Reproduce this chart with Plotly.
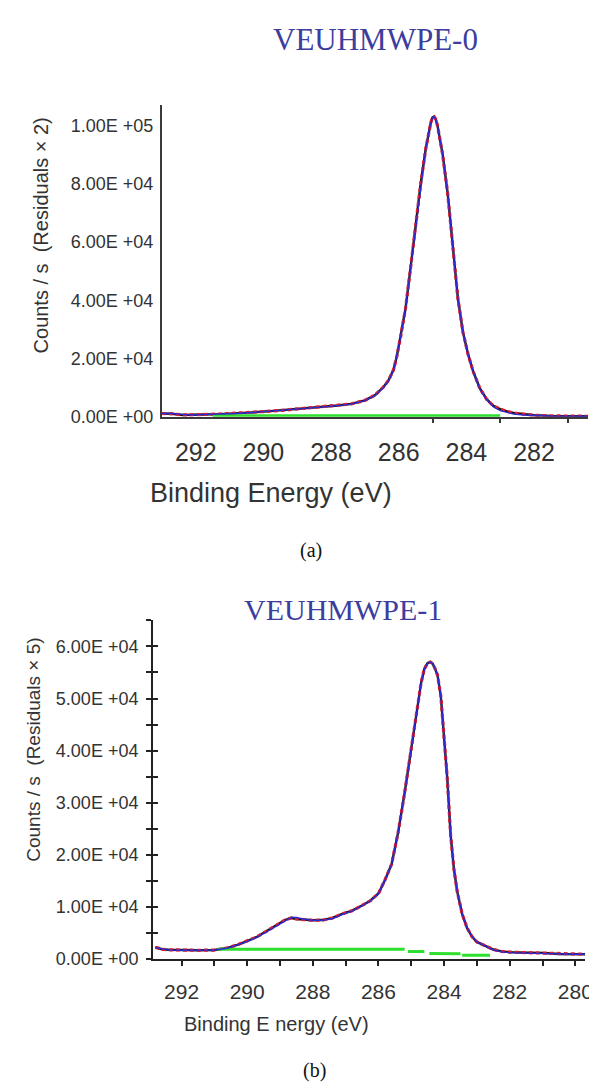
import plotly.graph_objects as go

# ---------------- Panel (a): VEUHMWPE-0 ----------------
title_a = "VEUHMWPE-0"
be_a = [293.0, 292.7, 292.4, 292.1, 291.8, 291.3, 290.8, 290.3, 289.8, 289.3, 288.8, 288.3,
        287.8, 287.4, 287.0, 286.7, 286.45, 286.3, 286.15, 286.05, 285.95, 285.8, 285.65,
        285.5, 285.35, 285.2, 285.1, 285.05, 285.0, 284.95, 284.9, 284.85, 284.8, 284.7,
        284.55, 284.4, 284.25, 284.1, 283.95, 283.8, 283.6, 283.4, 283.2, 283.0, 282.8,
        282.6, 282.3, 282.0, 281.5, 281.0, 280.4]
fit_a = [1100, 1100, 800, 600, 700, 850, 1100, 1450, 1850, 2300, 2800, 3300,
         3800, 4300, 5500, 7300, 10000, 12300, 16000, 21000, 27000, 37000, 51000,
         66000, 80000, 92000, 98500, 101000, 102800, 103000, 102000, 99800, 96500, 90000,
         76500, 58700, 40600, 29000, 21500, 15500, 9500, 5800, 3400, 2100, 1400,
         900, 600, 400, 250, 200, 150]
data_a = [1100, 1000, 600, 600, 750, 900, 1150, 1500, 1900, 2350, 2850, 3350,
          3850, 4400, 5600, 7400, 10200, 12500, 16200, 21000, 27000, 37000, 51000,
          66000, 80000, 92000, 98500, 101000, 102800, 103000, 102000, 99800, 96500, 90000,
          76500, 58700, 40600, 29000, 21500, 15600, 9700, 6000, 3700, 2600, 1800,
          1300, 900, 500, 300, 200, 150]
bg_a_x = [291.5, 283.0]
bg_a_y = [300, 300]
ya_vals = [0, 20000, 40000, 60000, 80000, 100000]
ya_text = ["0.00E +00", "2.00E +04", "4.00E +04", "6.00E +04", "8.00E +04", "1.00E +05"]
xa_vals = [292, 290, 288, 286, 284, 282]
xa_text = ["292", "290", "288", "286", "284", "282"]
xa_minor = [285, 283, 281]
ytitle_a = "Counts / s  (Residuals × 2)"
xtitle_a = "Binding Energy (eV)"
caption_a = "(a)"

# ---------------- Panel (b): VEUHMWPE-1 ----------------
title_b = "VEUHMWPE-1"
be_b = [292.8, 292.6, 292.4, 292.0, 291.5, 291.0, 290.6, 290.3, 290.0, 289.7, 289.4, 289.1,
        288.85, 288.65, 288.5, 288.3, 288.0, 287.7, 287.4, 287.1, 286.8, 286.5, 286.25,
        286.0, 285.8, 285.6, 285.4, 285.2, 285.0, 284.85, 284.7, 284.6, 284.5, 284.42,
        284.35, 284.28, 284.2, 284.1, 284.0, 283.9, 283.8, 283.7, 283.6, 283.45, 283.3,
        283.15, 283.0, 282.75, 282.5, 282.25, 282.0, 281.5, 281.0, 280.5, 280.0, 279.7]
fit_b = [2200, 1950, 1780, 1700, 1700, 1750, 2100, 2700, 3400, 4200, 5300, 6500,
         7400, 8050, 8000, 7700, 7450, 7450, 7800, 8600, 9200, 10200, 11100,
         12600, 15200, 18200, 24300, 32000, 40200, 46500, 53000, 55700, 56800, 57000,
         56700, 55800, 54500, 50500, 43000, 34500, 23800, 17300, 13000, 8700, 6000,
         4350, 3300, 2500, 1800, 1400, 1250, 1150, 1050, 1000, 950, 950]
data_b = [2300, 1900, 1800, 1700, 1700, 1750, 2150, 2750, 3450, 4300, 5400, 6600,
          7500, 7900, 7700, 7600, 7450, 7500, 7900, 8700, 9300, 10300, 11200,
          12600, 15200, 18200, 24300, 32000, 40200, 46500, 53000, 55700, 56800, 57000,
          56700, 55800, 54500, 50500, 43000, 34500, 23800, 17300, 13000, 8700, 6000,
          4350, 3300, 2500, 1850, 1500, 1350, 1250, 1200, 1000, 950, 950]
bg_b_x = [290.9, 285.2, None, 285.1, 284.6, None, 284.45, 283.5, None, 283.45, 282.6]
bg_b_y = [1900, 1900, None, 1460, 1460, None, 1080, 1050, None, 760, 740]
yb_major = [0, 10000, 20000, 30000, 40000, 50000, 60000]
yb_text = ["0.00E +00", "1.00E +04", "2.00E +04", "3.00E +04", "4.00E +04", "5.00E +04", "6.00E +04"]
yb_ticks = [0, 5000, 10000, 15000, 20000, 25000, 30000, 35000, 40000, 45000, 50000, 55000, 60000, 65000]
xb_ticks = [292, 291, 290, 289, 288, 287, 286, 285, 284, 283, 282, 281, 280]
xb_labeled = [292, 290, 288, 286, 284, 282, 280]
ytitle_b = "Counts / s  (Residuals × 5)"
xtitle_b = "Binding E nergy (eV)"
caption_b = "(b)"

W, H = 597, 1086
SANS = "Liberation Sans, Arial, sans-serif"
SERIF = "Liberation Serif, Times New Roman, serif"
TITLE_COLOR = "#3d3d9e"
TXT = "#333333"


def px(x):
    return x / W


def py(y):
    return 1 - y / H


fig = go.Figure()


def add_curves(be, data, fit, bgx, bgy, xa, ya):
    fig.add_trace(go.Scatter(x=be, y=data, mode="lines", xaxis=xa, yaxis=ya,
                             line=dict(color="#111111", width=2.4), showlegend=False, hoverinfo="skip"))
    fig.add_trace(go.Scatter(x=be, y=data, mode="lines", xaxis=xa, yaxis=ya,
                             line=dict(color="#e0202a", width=3.2, dash="4px,3px"), showlegend=False, hoverinfo="skip"))
    fig.add_trace(go.Scatter(x=bgx, y=bgy, mode="lines", xaxis=xa, yaxis=ya, connectgaps=False,
                             line=dict(color="#2de02d", width=3), showlegend=False, hoverinfo="skip"))
    fig.add_trace(go.Scatter(x=be, y=fit, mode="lines", xaxis=xa, yaxis=ya,
                             line=dict(color="#2b2bd6", width=1.4), showlegend=False, hoverinfo="skip"))


add_curves(be_a, data_a, fit_a, bg_a_x, bg_a_y, "x", "y")
add_curves(be_b, data_b, fit_b, bg_b_x, bg_b_y, "x2", "y2")
# helper trace for the overlay axis that draws the inward half of the (b) y ticks
fig.add_trace(go.Scatter(x=be_b[:1], y=fit_b[:1], mode="markers", xaxis="x2", yaxis="y3",
                         marker=dict(size=1, opacity=0), showlegend=False, hoverinfo="skip"))

xa_dom = [px(156), px(588)]
ya_dom = [py(412.5), py(98)]
xb_dom = [px(147), px(585)]
yb_dom = [py(960), py(618)]

fig.update_layout(
    width=W, height=H,
    margin=dict(l=0, r=0, t=0, b=0),
    paper_bgcolor="white", plot_bgcolor="white",
    xaxis=dict(domain=xa_dom, anchor="y", range=[293.0, 280.4], showgrid=False, zeroline=False,
               showline=True, linecolor="#3a3a3a", linewidth=2,
               tickmode="array", tickvals=xa_vals, ticktext=xa_text, ticks="", ticklen=0,
               ticklabelstandoff=12,
               minor=dict(tickmode="array", tickvals=xa_minor, ticks="outside", ticklen=4,
                          tickwidth=1.5, tickcolor="#3a3a3a"),
               tickfont=dict(family=SANS, size=25, color=TXT)),
    yaxis=dict(domain=ya_dom, anchor="x", range=[0, 107000], showgrid=False, zeroline=False,
               showline=True, linecolor="#3a3a3a", linewidth=2,
               tickmode="array", tickvals=ya_vals, ticktext=ya_text, ticks="",
               ticklabelstandoff=3,
               tickfont=dict(family=SANS, size=18, color=TXT)),
    xaxis2=dict(domain=xb_dom, anchor="y2", range=[292.87, 279.70], showgrid=False, zeroline=False,
                showline=True, linecolor="#222222", linewidth=2,
                tickmode="array", tickvals=xb_ticks,
                ticktext=[str(v) if v in xb_labeled else "" for v in xb_ticks],
                ticks="outside", ticklen=5, tickwidth=2, tickcolor="#222222",
                ticklabelstandoff=8,
                tickfont=dict(family=SANS, size=21, color=TXT)),
    yaxis2=dict(domain=yb_dom, anchor="x2", range=[0, 65000], showgrid=False, zeroline=False,
                showline=True, linecolor="#222222", linewidth=2,
                tickmode="array", tickvals=yb_ticks,
                ticktext=[yb_text[yb_major.index(v)] if v in yb_major else "" for v in yb_ticks],
                ticks="outside", ticklen=5, tickwidth=2, tickcolor="#222222",
                ticklabelstandoff=4,
                tickfont=dict(family=SANS, size=18, color=TXT)),
    yaxis3=dict(overlaying="y2", anchor="x2", range=[0, 65000], showgrid=False, zeroline=False,
                showline=False, tickmode="array", tickvals=yb_ticks, ticks="inside", ticklen=5,
                tickwidth=2, tickcolor="#222222", showticklabels=False),
)

ann = [
    dict(text=title_a, x=px(372), y=py(32), font=dict(family=SERIF, size=31, color=TITLE_COLOR)),
    dict(text=ytitle_a, x=px(33), y=py(230), textangle=-90, font=dict(family=SANS, size=20, color=TXT)),
    dict(text=xtitle_a, x=px(267), y=py(490), font=dict(family=SANS, size=27, color=TXT)),
    dict(text=caption_a, x=px(307), y=py(548), font=dict(family=SERIF, size=20, color="#111111")),
    dict(text=title_b, x=px(340), y=py(607), font=dict(family=SERIF, size=30, color=TITLE_COLOR)),
    dict(text=ytitle_b, x=px(25), y=py(749), textangle=-90, font=dict(family=SANS, size=19, color=TXT)),
    dict(text=xtitle_b, x=px(272), y=py(1025), font=dict(family=SANS, size=20, color=TXT)),
    dict(text=caption_b, x=px(311), y=py(1072), font=dict(family=SERIF, size=20, color="#111111")),
]
for a in ann:
    a.update(xref="paper", yref="paper", showarrow=False, xanchor="center", yanchor="middle")
    fig.add_annotation(**a)

fig.write_html("out.html")
